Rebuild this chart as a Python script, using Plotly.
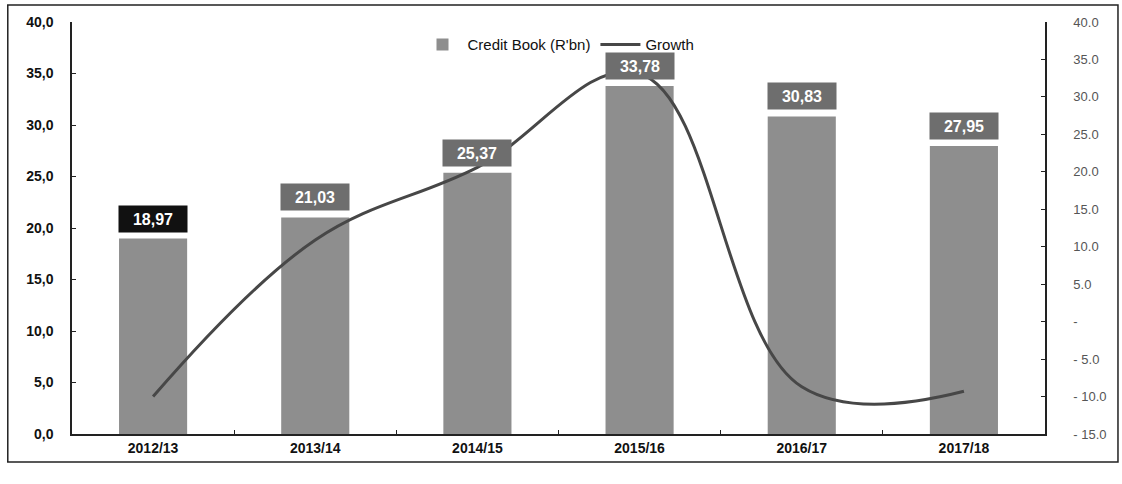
import plotly.graph_objects as go

# Credit book by financial year (R'bn) and year-on-year growth (%)
years = ["2012/13", "2013/14", "2014/15", "2015/16", "2016/17", "2017/18"]
credit_book = [18.97, 21.03, 25.37, 33.78, 30.83, 27.95]
growth = [-10.0, 10.9, 20.6, 33.1, -8.7, -9.3]

left_ticks = [0, 5, 10, 15, 20, 25, 30, 35, 40]
left_text = ["0,0", "5,0", "10,0", "15,0", "20,0", "25,0", "30,0", "35,0", "40,0"]
right_ticks = [-15, -10, -5, 0, 5, 10, 15, 20, 25, 30, 35, 40]
right_text = ["- 15.0", "- 10.0", "- 5.0", "-", "5.0", "10.0", "15.0", "20.0",
              "25.0", "30.0", "35.0", "40.0"]

BAR = "#8e8e8e"
LINE = "#474747"
FONT = "Arial, Liberation Sans, sans-serif"

fig = go.Figure()
fig.add_trace(go.Bar(
    x=years, y=credit_book, name="Credit Book (R'bn)",
    marker=dict(color=BAR, line=dict(width=0)), width=0.42,
))
fig.add_trace(go.Scatter(
    x=years, y=growth, name="Growth", yaxis="y2", mode="lines",
    line=dict(color=LINE, width=3, shape="spline", smoothing=1.1),
))

# Value boxes above each bar
for i, (yr, v) in enumerate(zip(years, credit_book)):
    fig.add_annotation(
        x=yr, y=v, xref="x", yref="y", text="<b>%s</b>" % f"{v:.2f}".replace(".", ","),
        showarrow=False, yanchor="bottom", yshift=6,
        font=dict(family=FONT, size=16, color="white"),
        bgcolor="#111111" if i == 0 else "#6e6e6e",
        width=66, height=24, borderpad=1,
    )

# Outer frame
fig.add_shape(type="rect", xref="paper", yref="paper",
              x0=-0.066, x1=1.075, y0=-0.068, y1=1.041,
              line=dict(color="#222222", width=1.5), layer="below")

fig.update_layout(
    width=1122, height=484,
    margin=dict(l=72, r=77, t=22, b=50),
    paper_bgcolor="white", plot_bgcolor="white",
    font=dict(family=FONT, color="#111111"),
    showlegend=True,
    legend=dict(orientation="h", x=0.5, xanchor="center", y=0.985, yanchor="top",
                font=dict(size=15, color="#111111"), bgcolor="rgba(0,0,0,0)",
                itemwidth=40),
    xaxis=dict(
        showline=True, linecolor="#222222", linewidth=1.5,
        tickfont=dict(size=14, color="#111111", weight="bold"),
        ticks="inside", ticklen=4, tickcolor="#222222",
        tickson="boundaries", showgrid=False,
    ),
    yaxis=dict(
        range=[0, 40], tickvals=left_ticks, ticktext=left_text,
        showline=True, linecolor="#222222", linewidth=1.5,
        ticks="inside", ticklen=4, tickcolor="#222222",
        tickfont=dict(size=14, color="#111111", weight="bold"),
        showgrid=False, zeroline=False, ticklabelstandoff=14,
    ),
    yaxis2=dict(
        range=[-15, 40], tickvals=right_ticks, ticktext=right_text,
        overlaying="y", side="right",
        showline=True, linecolor="#222222", linewidth=1.5,
        ticks="inside", ticklen=4, tickcolor="#222222",
        tickfont=dict(size=13, color="#555555"), showgrid=False, zeroline=False,
        ticklabelstandoff=24,
    ),
)

fig.write_html("out.html")
